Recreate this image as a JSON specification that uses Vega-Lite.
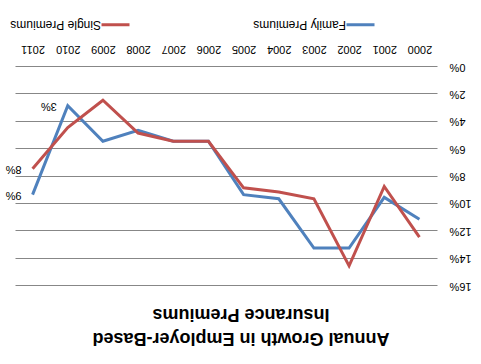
{
  "$schema": "https://vega.github.io/schema/vega-lite/v6.json",
  "width": 422,
  "height": 219,
  "autosize": {"type": "none"},
  "padding": {"left": 15, "top": 66, "right": 44, "bottom": 79},
  "background": "white",
  "config": {"view": {"stroke": null}, "font": "Liberation Sans"},
  "title": {
    "text": ["Annual Growth in Employer-Based", "Insurance Premiums"],
    "orient": "bottom",
    "angle": 180,
    "fontSize": 18,
    "fontWeight": "bold",
    "font": "Liberation Sans",
    "baseline": "bottom",
    "lineHeight": 24,
    "anchor": "middle",
    "offset": 38,
    "dx": -15,
    "color": "black"
  },
  "data": {
    "values": [
      {"Year": "2000", "Series": "Family Premiums", "Growth": 11.2},
      {"Year": "2001", "Series": "Family Premiums", "Growth": 9.6},
      {"Year": "2002", "Series": "Family Premiums", "Growth": 13.3},
      {"Year": "2003", "Series": "Family Premiums", "Growth": 13.3},
      {"Year": "2004", "Series": "Family Premiums", "Growth": 9.7},
      {"Year": "2005", "Series": "Family Premiums", "Growth": 9.4},
      {"Year": "2006", "Series": "Family Premiums", "Growth": 5.5},
      {"Year": "2007", "Series": "Family Premiums", "Growth": 5.5},
      {"Year": "2008", "Series": "Family Premiums", "Growth": 4.7},
      {"Year": "2009", "Series": "Family Premiums", "Growth": 5.5},
      {"Year": "2010", "Series": "Family Premiums", "Growth": 2.9, "label": "3%"},
      {"Year": "2011", "Series": "Family Premiums", "Growth": 9.4, "label": "9%"},
      {"Year": "2000", "Series": "Single Premiums", "Growth": 12.5},
      {"Year": "2001", "Series": "Single Premiums", "Growth": 8.8},
      {"Year": "2002", "Series": "Single Premiums", "Growth": 14.6},
      {"Year": "2003", "Series": "Single Premiums", "Growth": 9.7},
      {"Year": "2004", "Series": "Single Premiums", "Growth": 9.2},
      {"Year": "2005", "Series": "Single Premiums", "Growth": 8.9},
      {"Year": "2006", "Series": "Single Premiums", "Growth": 5.5},
      {"Year": "2007", "Series": "Single Premiums", "Growth": 5.5},
      {"Year": "2008", "Series": "Single Premiums", "Growth": 4.9},
      {"Year": "2009", "Series": "Single Premiums", "Growth": 2.5},
      {"Year": "2010", "Series": "Single Premiums", "Growth": 4.5},
      {"Year": "2011", "Series": "Single Premiums", "Growth": 7.5, "label": "8%"}
    ]
  },
  "encoding": {
    "x": {
      "field": "Year",
      "type": "ordinal",
      "scale": {"type": "point", "padding": 0.5, "reverse": true},
      "axis": {
        "orient": "top",
        "title": null,
        "labelAngle": 180,
        "labelAlign": "center",
        "labelBaseline": "top",
        "labelPadding": 12,
        "labelFontSize": 11,
        "labelColor": "black",
        "labelFont": "Liberation Sans",
        "domain": false,
        "ticks": false,
        "tickSize": 0,
        "grid": false
      }
    },
    "y": {
      "field": "Growth",
      "type": "quantitative",
      "scale": {"domain": [0, 16], "reverse": true, "nice": false},
      "axis": {
        "orient": "right",
        "title": null,
        "values": [0, 2, 4, 6, 8, 10, 12, 14, 16],
        "labelExpr": "datum.value + '%'",
        "labelAngle": 180,
        "labelAlign": "right",
        "labelBaseline": "middle",
        "labelPadding": 12,
        "labelFontSize": 11,
        "labelColor": "black",
        "labelFont": "Liberation Sans",
        "domain": false,
        "ticks": false,
        "tickSize": 0,
        "grid": true,
        "gridColor": "#878787",
        "gridWidth": 1
      }
    }
  },
  "layer": [
    {
      "mark": {"type": "line", "strokeWidth": 3},
      "encoding": {
        "color": {
          "field": "Series",
          "type": "nominal",
          "scale": {"domain": ["Single Premiums", "Family Premiums"], "range": ["#C0504D", "#4F81BD"]},
          "legend": {
            "orient": "none",
            "legendX": 85,
            "legendY": -57,
            "direction": "horizontal",
            "title": null,
            "symbolType": "stroke",
            "symbolSize": 784,
            "symbolStrokeWidth": 3,
            "labelFontSize": 12,
            "labelFont": "Liberation Sans",
            "labelColor": "black",
            "labelOffset": -30,
            "columnPadding": 117,
            "encode": {"labels": {"update": {"angle": {"value": 180}}}}
          }
        }
      }
    },
    {
      "transform": [{"filter": "datum.label != null"}],
      "mark": {"type": "text", "angle": 180, "align": "left", "baseline": "middle", "dx": 11, "fontSize": 11, "font": "Liberation Sans", "color": "black"},
      "encoding": {"text": {"field": "label"}}
    }
  ]
}
